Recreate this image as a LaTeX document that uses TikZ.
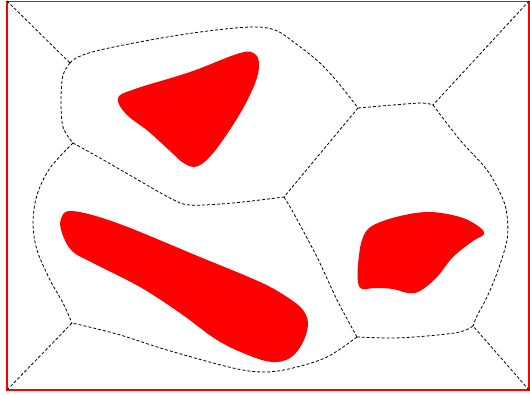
\documentclass[tikz,border=0pt]{standalone}
\usepackage{tikz}

\begin{document}
\begin{tikzpicture}[x=1pt, y=-1pt,
    frame/.style={draw=red, line width=1.1pt},
    cell/.style={draw=black, line width=0.8pt, dash pattern=on 3pt off 2pt},
    blob/.style={fill=red, draw=none}
  ]
    \useasboundingbox (0,0) rectangle (530,394);
    % outer frame
    \draw[frame] (7,1.8) rectangle (529,390);
    \coordinate (tl) at (7,1);
    \coordinate (tr) at (529,1);
    \coordinate (br) at (529,390);
    \coordinate (bl) at (7,390);

    % cell vertices
    \coordinate (A) at (70,63);
    \coordinate (B) at (73,143);
    \coordinate (C) at (358,108);
    \coordinate (D) at (433,105);
    \coordinate (E) at (284,197);
    \coordinate (F) at (357,337);
    \coordinate (G) at (473,326);
    \coordinate (H) at (72,323);

    % cell borders
    \draw[cell] (tl) -- (A);
    \draw[cell] (tr) -- (D);
    \draw[cell] (br) -- (G);
    \draw[cell] (bl) -- (H);
    \draw[cell] plot[smooth, tension=0.55] coordinates {(A) (78,57) (100,50) (150,40) (200,32) (250,27) (275,30) (295,43) (320,63) (340,85) (C)};
    \draw[cell] plot[smooth, tension=0.55] coordinates {(A) (63,75) (61,100) (63,127) (B)};
    \draw[cell] plot[smooth, tension=0.55] coordinates {(B) (100,158) (133,177) (170,198) (190,205) (233,203) (E)};
    \draw[cell] (C) -- (E);
    \draw[cell] plot[smooth, tension=0.55] coordinates {(C) (393,105) (422,103) (D)};
    \draw[cell] plot[smooth, tension=0.55] coordinates {(D) (460,140) (487,170) (502,197) (507,215) (507,240) (497,273) (487,297) (477,316) (G)};
    \draw[cell] plot[smooth, tension=0.55] coordinates {(G) (460,332) (427,336) (393,338) (F)};
    \draw[cell] plot[smooth, tension=0.4] coordinates {(E) (293,212) (317,257) (337,300) (F)};
    \draw[cell] plot[smooth, tension=0.55] coordinates {(F) (327,357) (293,368) (265,372) (233,368) (167,350) (117,334) (H)};
    \draw[cell] plot[smooth, tension=0.55] coordinates {(B) (50,168) (37,195) (33,223) (37,250) (50,280) (63,303) (H)};

    % obstacles
    \fill[blob] plot[smooth cycle, tension=0.6] coordinates {(118,98) (135,89) (190,72) (240,53) (255,54) (259,66) (254,86) (238,117) (214,152) (198,166) (185,164) (170,151) (148,131) (126,114)};
    \fill[blob] plot[smooth cycle, tension=0.6] coordinates {(61,219) (72,211) (117,223) (200,257) (260,282) (287,297) (303,310) (308,325) (302,344) (290,358) (272,362) (248,355) (217,340) (180,313) (140,287) (93,263) (72,251) (62,233)};
    \fill[blob] plot[smooth cycle, tension=0.6] coordinates {(362,240) (372,226) (400,216) (430,212) (460,217) (478,226) (484,234) (473,241) (453,257) (437,277) (420,291) (408,293) (393,289) (375,288) (362,289) (358,282) (358,265)};
\end{tikzpicture}
\end{document}
